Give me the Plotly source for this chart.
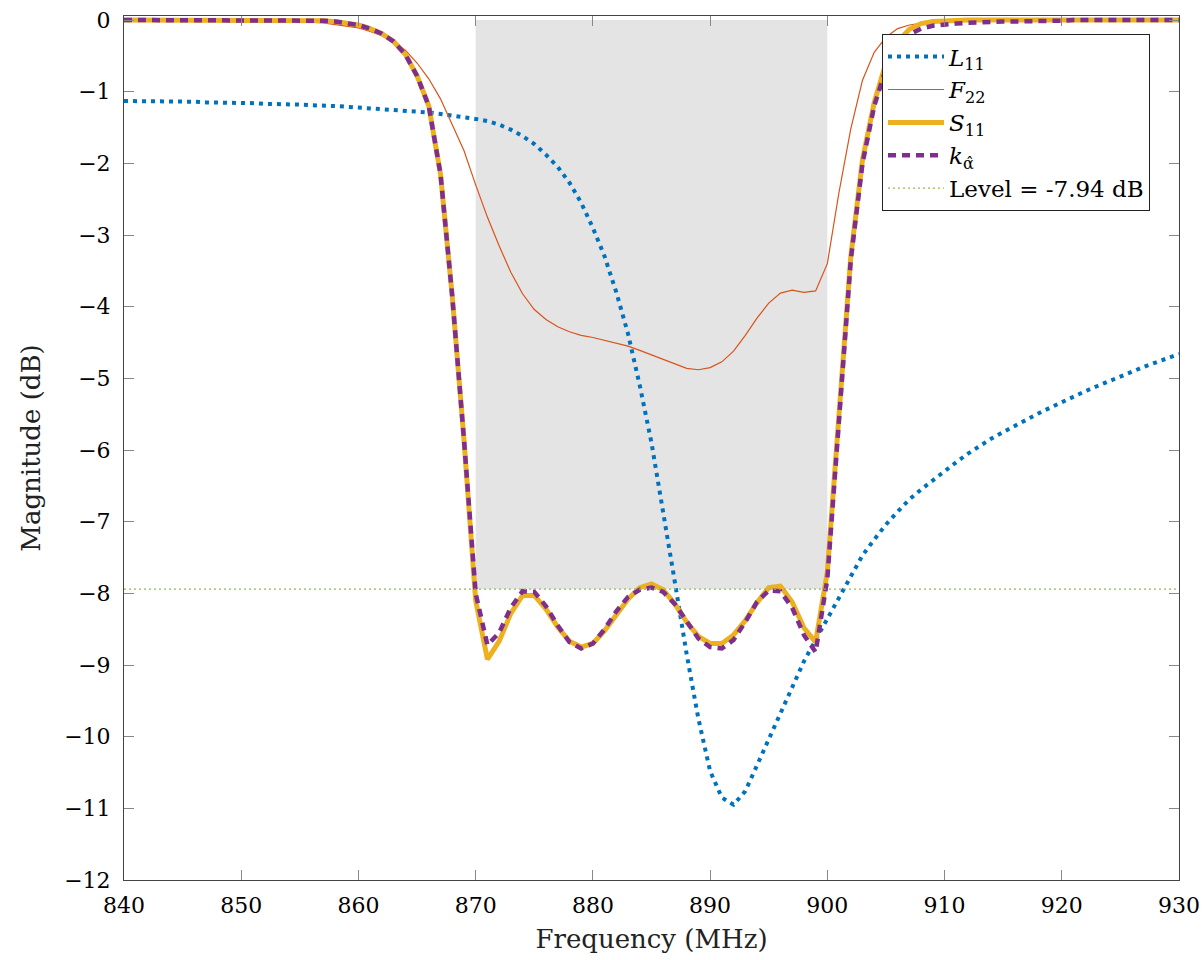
import plotly.graph_objects as go

freq = list(range(840, 931))

L11 = [-1.13, -1.13, -1.13, -1.13, -1.14, -1.14, -1.14, -1.15, -1.15, -1.15,
       -1.16, -1.16, -1.17, -1.17, -1.18, -1.18, -1.19, -1.19, -1.20, -1.21,
       -1.22, -1.23, -1.24, -1.25, -1.26, -1.28, -1.29, -1.31, -1.33, -1.35,
       -1.38, -1.41, -1.46, -1.53, -1.62, -1.73, -1.88, -2.05, -2.27, -2.55,
       -2.90, -3.30, -3.80, -4.38, -5.10, -5.90, -6.85, -7.85, -8.85, -9.75,
       -10.48, -10.85, -10.95, -10.76, -10.40, -10.03, -9.66, -9.30, -8.95, -8.65,
       -8.35, -8.05, -7.75, -7.47, -7.25, -7.04, -6.86, -6.69, -6.55, -6.42,
       -6.30, -6.17, -6.05, -5.94, -5.84, -5.75, -5.66, -5.57, -5.49, -5.41,
       -5.33, -5.25, -5.18, -5.11, -5.04, -4.97, -4.90, -4.84, -4.78, -4.72,
       -4.66]

F22 = [0, 0, 0, 0, 0, 0, 0, 0, 0, -0.01,
       -0.01, -0.01, -0.01, -0.02, -0.02, -0.02, -0.03, -0.04, -0.06, -0.08,
       -0.11, -0.16, -0.22, -0.30, -0.42, -0.60, -0.82, -1.10, -1.45, -1.82,
       -2.30, -2.75, -3.15, -3.52, -3.82, -4.04, -4.18, -4.28, -4.35, -4.40,
       -4.43, -4.47, -4.50, -4.55, -4.61, -4.67, -4.73, -4.80, -4.86, -4.88,
       -4.85, -4.77, -4.62, -4.40, -4.16, -3.95, -3.81, -3.77, -3.80, -3.78,
       -3.40, -2.40, -1.52, -0.84, -0.45, -0.24, -0.12, -0.07, -0.04, -0.02,
       -0.01, 0, 0, 0, 0, 0, 0, 0, 0, 0,
       0, 0, 0, 0, 0, 0, 0, 0, 0, 0,
       0]

S11 = [0, 0, 0, 0, 0, 0, 0, 0, 0, 0,
       0, 0, 0, 0, 0, 0, -0.01, -0.01, -0.02, -0.04,
       -0.07, -0.12, -0.19, -0.30, -0.48, -0.78, -1.20, -2.15, -3.85, -5.85,
       -8.10, -8.92, -8.67, -8.28, -8.03, -8.03, -8.22, -8.47, -8.67, -8.75,
       -8.70, -8.52, -8.30, -8.08, -7.92, -7.87, -7.95, -8.15, -8.40, -8.60,
       -8.70, -8.70, -8.58, -8.38, -8.13, -7.92, -7.90, -8.12, -8.48, -8.68,
       -7.70, -5.60, -3.30, -1.95, -1.15, -0.60, -0.30, -0.13, -0.05, -0.02,
       -0.01, 0, 0, 0, 0, 0, 0, 0, 0, 0,
       0, 0, 0, 0, 0, 0, 0, 0, 0, 0,
       0]

K_ALPHA = [0, 0, 0, 0, 0, 0, 0, 0, 0, 0,
           0, 0, 0, 0, 0, 0, -0.01, -0.01, -0.02, -0.04,
           -0.07, -0.12, -0.19, -0.30, -0.48, -0.78, -1.20, -2.15, -3.85, -5.85,
           -8.00, -8.72, -8.55, -8.20, -7.97, -7.98, -8.18, -8.45, -8.68, -8.77,
           -8.70, -8.50, -8.25, -8.05, -7.95, -7.92, -7.98, -8.15, -8.40, -8.63,
           -8.75, -8.77, -8.65, -8.40, -8.12, -7.96, -7.97, -8.20, -8.58, -8.82,
           -7.80, -5.65, -3.35, -2.00, -1.20, -0.68, -0.38, -0.20, -0.12, -0.08,
           -0.06, -0.05, -0.04, -0.03, -0.03, -0.02, -0.02, -0.02, -0.01, -0.01,
           -0.01, 0, 0, 0, 0, 0, 0, 0, 0, 0,
           0]

level_db = -7.94
band_lo, band_hi = 870, 900
x_ticks = list(range(840, 931, 10))
y_ticks = list(range(-12, 1))

FONT = '"DejaVu Serif", "Liberation Serif", serif'

fig = go.Figure()

fig.add_shape(type="rect", xref="x", yref="y", x0=band_lo, x1=band_hi,
              y0=level_db, y1=0, fillcolor="#e4e4e4", line_width=0, layer="below")

fig.add_trace(go.Scatter(x=freq, y=L11, mode="lines", name="<i>L</i><sub>11</sub>",
                         line=dict(color="#0072BD", width=4, dash="4px,5px")))
fig.add_trace(go.Scatter(x=freq, y=F22, mode="lines", name="<i>F</i><sub>22</sub>",
                         line=dict(color="#D95319", width=1.2)))
fig.add_trace(go.Scatter(x=freq, y=S11, mode="lines", name="<i>S</i><sub>11</sub>",
                         line=dict(color="#EDB120", width=5)))
fig.add_trace(go.Scatter(x=freq, y=K_ALPHA, mode="lines", name="<i>k</i><sub>α̂</sub>",
                         line=dict(color="#7E2F8E", width=4.5, dash="8px,6px")))
fig.add_trace(go.Scatter(x=[freq[0], freq[-1]], y=[level_db, level_db], mode="lines",
                         name="Level = -7.94 dB",
                         line=dict(color="#8FBA4E", width=1.2, dash="2px,3px")))

axis_common = dict(showgrid=False, zeroline=False, showline=True, linecolor="#444444",
                   linewidth=1, mirror="ticks", ticks="inside", ticklen=10,
                   tickcolor="#888888", automargin=False,
                   tickfont=dict(family=FONT, size=22, color="black"))

fig.update_xaxes(range=[840, 930], tickvals=x_ticks, ticklabelstandoff=6,
                 title=dict(text="Frequency (MHz)", font=dict(family=FONT, size=26, color="#222"),
                            standoff=12),
                 **axis_common)
fig.update_yaxes(range=[-12, 0.056], tickvals=y_ticks, ticklabelstandoff=8,
                 title=dict(text="Magnitude (dB)", font=dict(family=FONT, size=26, color="#222"),
                            standoff=16),
                 **axis_common)

fig.update_layout(
    width=1202, height=960,
    margin=dict(l=124, r=23, t=16, b=80, autoexpand=False),
    plot_bgcolor="white", paper_bgcolor="white",
    font=dict(family=FONT, size=22, color="black"),
    legend=dict(x=0.7185, y=0.979, xanchor="left", yanchor="top",
                bgcolor="white", bordercolor="#222", borderwidth=1,
                font=dict(family=FONT, size=23, color="black"),
                itemwidth=56, tracegroupgap=0),
)

fig.write_html("out.html")
